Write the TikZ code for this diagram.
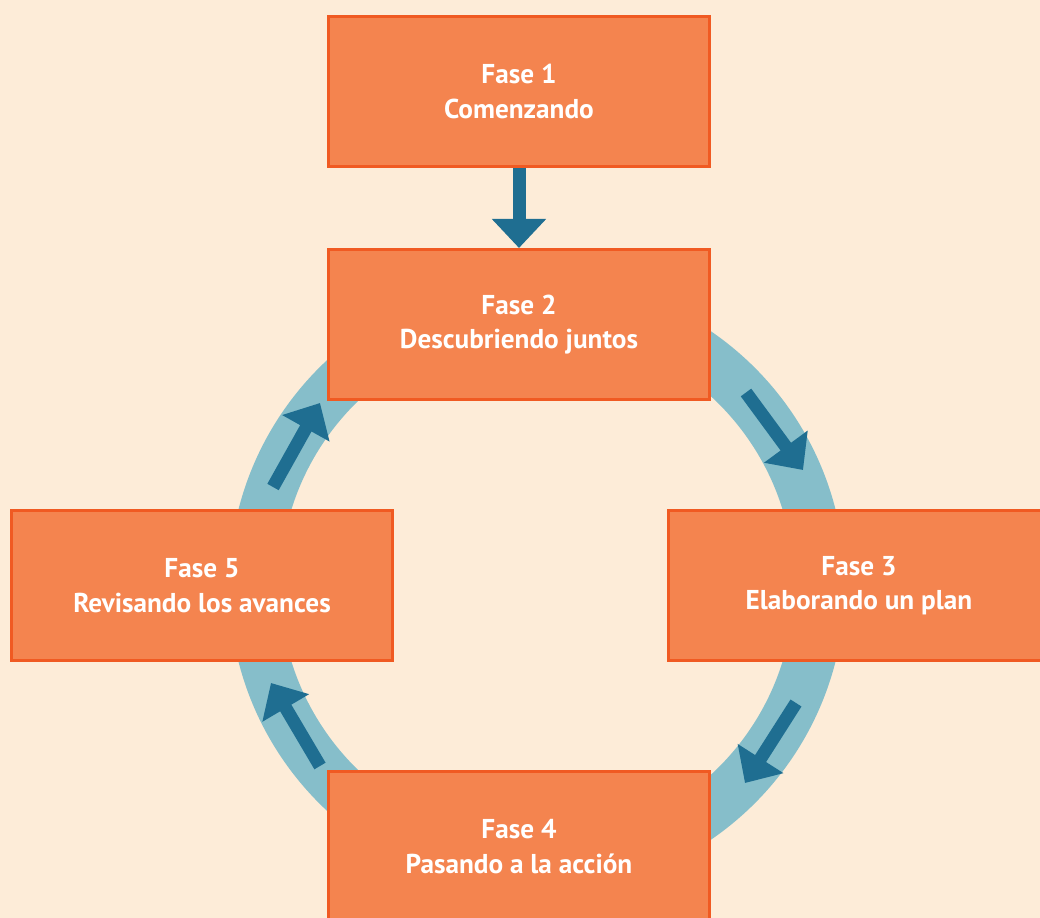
\documentclass[tikz,border=0pt]{standalone}
\usepackage{fontspec}
\setsansfont{PT Sans}
\usetikzlibrary{arrows.meta}
\definecolor{fondo}{HTML}{FDECD8}
\definecolor{fasefondo}{HTML}{F4844F}
\definecolor{faseborde}{HTML}{F05A22}
\definecolor{anilloazul}{HTML}{86BECA}
\definecolor{flechaazul}{HTML}{1F6E91}
\tikzstyle{fase} = [rectangle, minimum width=7.62cm, minimum height=3cm, align=center, draw=faseborde, line width=0.06cm, fill=fasefondo, text=white, font=\sffamily\bfseries\fontsize{15.5}{19.6}\selectfont]
\tikzstyle{anillo} = [line width=1.02cm, draw=anilloazul]
\tikzstyle{arrow} = [line width=0.26cm, draw=flechaazul, -{Triangle[length=0.58cm,width=1.05cm]}]

\begin{document}
\begin{tikzpicture}
\useasboundingbox (0,0) rectangle (20.8,-18.36);
\fill[fondo] (0,0) rectangle (20.8,-18.36);
\coordinate (centro) at (10.74,-11.71);
\draw [anillo] (centro) circle (5.65cm);
\node (fase1) [fase] at (10.38,-1.83) {Fase 1\\Comenzando};
\node (fase2) [fase, below of=fase1, node distance=4.66cm] {Fase 2\\Descubriendo juntos};
\node (fase4) [fase, below of=fase2, node distance=10.44cm] {Fase 4\\Pasando a la acción};
\node (fase3) [fase, right of=centro, node distance=6.44cm] {Fase 3\\Elaborando un plan};
\node (fase5) [fase, left of=centro, node distance=6.70cm] {Fase 5\\Revisando los avances};
% flechas sobre el anillo
\coordinate (a23) at (14.92,-7.85);
\coordinate (b23) at (16.06,-9.40);
\coordinate (a34) at (15.92,-14.06);
\coordinate (b34) at (14.90,-15.66);
\coordinate (a45) at (6.40,-15.32);
\coordinate (b45) at (5.42,-13.66);
\coordinate (a52) at (5.46,-9.74);
\coordinate (b52) at (6.40,-8.06);
\draw [arrow] (fase1) -- (fase2);
\draw [arrow] (a23) -- (b23);
\draw [arrow] (a34) -- (b34);
\draw [arrow] (a45) -- (b45);
\draw [arrow] (a52) -- (b52);
\end{tikzpicture}
\end{document}
